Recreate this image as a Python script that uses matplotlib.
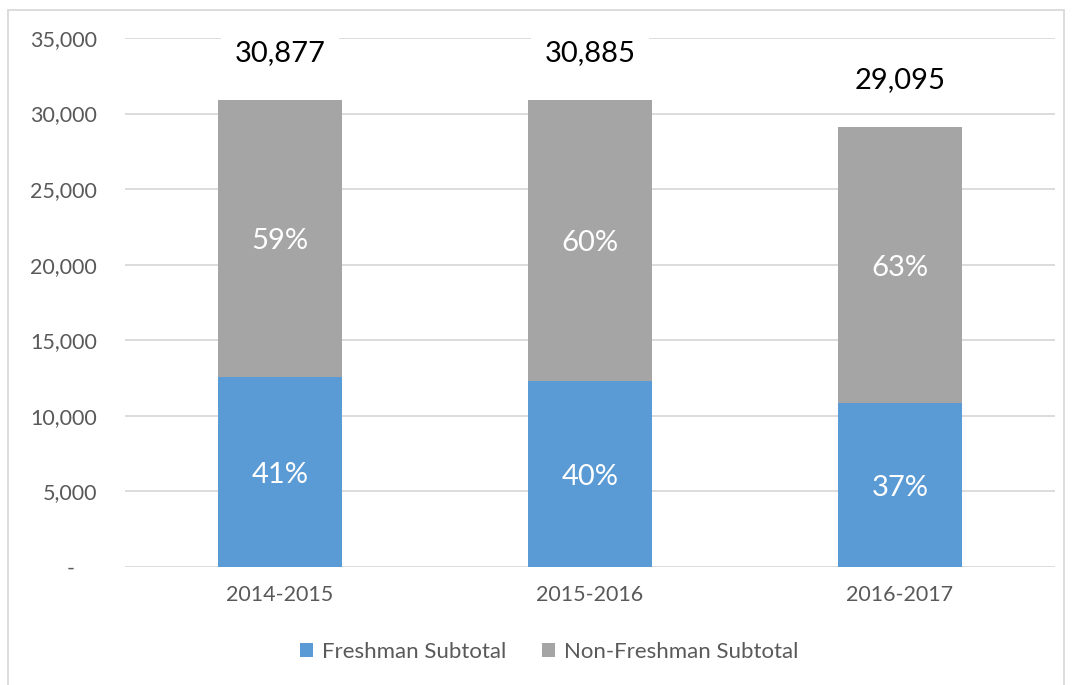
import matplotlib
matplotlib.use("Agg")
import matplotlib.pyplot as plt
from matplotlib.patches import Rectangle

categories = ["2014-2015", "2015-2016", "2016-2017"]
totals = [30877, 30885, 29095]
freshman = [12600, 12320, 10860]
freshman_pct = ["41%", "40%", "37%"]
nonfreshman_pct = ["59%", "60%", "63%"]
nonfreshman = [t - f for t, f in zip(totals, freshman)]
yticks = [0, 5000, 10000, 15000, 20000, 25000, 30000, 35000]
ytick_labels = ["-    ", "5,000", "10,000", "15,000", "20,000", "25,000", "30,000", "35,000"]

plt.rcParams['font.family'] = ['Lato', 'DejaVu Sans']

fig = plt.figure(figsize=(10.73, 6.85), dpi=100)
ax = fig.add_axes([125/1073, 1-567/685, 930/1073, 529/685])

blue = "#5B9BD5"
gray = "#A5A5A5"
x = list(range(len(categories)))
b1 = ax.bar(x, freshman, width=0.4, color=blue, label="Freshman Subtotal", zorder=3)
b2 = ax.bar(x, nonfreshman, width=0.4, bottom=freshman, color=gray, label="Non-Freshman Subtotal", zorder=3)

for i in x:
    ax.annotate(freshman_pct[i], xy=(i, freshman[i]/2), xytext=(0, -2), textcoords="offset points",
                ha="center", va="center", color="white", fontsize=21, zorder=4)
    ax.annotate(nonfreshman_pct[i], xy=(i, freshman[i] + nonfreshman[i]/2), xytext=(0, -2),
                textcoords="offset points", ha="center", va="center", color="white", fontsize=21, zorder=4)
    ax.annotate(f"{totals[i]:,}", xy=(i, totals[i]), xytext=(0, 34), textcoords="offset points",
                ha="center", va="center", fontsize=21, color="black", zorder=5,
                bbox=dict(boxstyle="square,pad=0.45", facecolor="white", edgecolor="none"))

ax.set_xlim(-0.5, 2.5)
ax.set_ylim(0, 35000)
ax.set_yticks(yticks)
ax.set_yticklabels(ytick_labels)
ax.set_xticks(x)
ax.set_xticklabels(categories)
ax.tick_params(axis="both", length=0, colors="#595959", labelsize=15.5)
ax.tick_params(axis="y", pad=20)
ax.tick_params(axis="x", pad=13)
ax.yaxis.grid(True, color="#D9D9D9", linewidth=1.3, zorder=0)
ax.set_axisbelow(True)
for s in ax.spines.values():
    s.set_visible(False)

leg = fig.legend(handles=[b1, b2], loc="center", bbox_to_anchor=(549/1073, 1-652/685), ncol=2,
                 frameon=False, fontsize=16, handlelength=0.6, handleheight=0.6,
                 handletextpad=0.4, columnspacing=1.6)
for t in leg.get_texts():
    t.set_color("#595959")

fig.patches.append(Rectangle((8/1073, -0.05), 1056/1073, 1.05 - 10/685, transform=fig.transFigure,
                             fill=False, edgecolor="#D9D9D9", linewidth=1.3))

fig.savefig("out.png", dpi=100, facecolor="white")
